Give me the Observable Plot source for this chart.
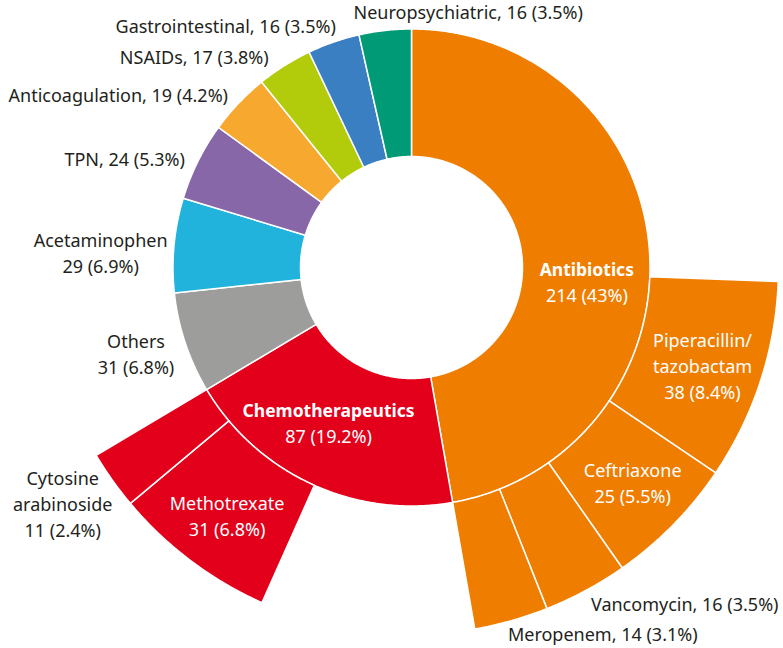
<!DOCTYPE html>
<html><head><meta charset="utf-8">
<script src="https://cdn.jsdelivr.net/npm/d3@7"></script>
<script src="https://cdn.jsdelivr.net/npm/@observablehq/plot@0.6"></script>
<style>body{margin:0;background:#fff;}</style>
</head><body><div id="chart"></div>
<script>
// ---- data ----
const categories = ["Antibiotics","Chemotherapeutics","Others","Acetaminophen","TPN","Anticoagulation","NSAIDs","Gastrointestinal","Neuropsychiatric"];
const counts = [214, 87, 31, 29, 24, 19, 17, 16, 16];
const percents = ["43%","19.2%","6.8%","6.9%","5.3%","4.2%","3.8%","3.5%","3.5%"];
const subParents = ["Antibiotics","Antibiotics","Antibiotics","Antibiotics","Chemotherapeutics","Chemotherapeutics"];
const subNames = ["Piperacillin/tazobactam","Ceftriaxone","Vancomycin","Meropenem","Methotrexate","Cytosine arabinoside"];
const subCounts = [38, 25, 16, 14, 31, 11];
const subPercents = ["8.4%","5.5%","3.5%","3.1%","6.8%","2.4%"];

// ---- style / layout ----
const colors = ["#ef7d00","#e2001a","#9d9d9c","#22b3dd","#8767a8","#f6a82f","#b2cb0a","#3a7fc1","#009a77"];
const W = 783, H = 648, CX = 411, CY = 267;
const R_IN = 111, R_MID = 238.5, R_OUT = 367;
const SUB_TOTAL = 430; // angular total used by the outer ring
const FONT = "'Noto Sans', sans-serif", FS = 18, FS_BOLD = 17.5, LINE = 26;
const labelLayout = {
  "Antibiotics": {r:176, dx:0, dy:31, anchor:"middle", inside:true, bold:true},
  "Chemotherapeutics": {r:175, dx:-10, dy:-2, anchor:"middle", inside:true, bold:true},
  "Others": {r:253, dx:-35.5, dy:8, anchor:"middle"},
  "Acetaminophen": {r:253, dx:-59, dy:10, anchor:"middle"},
  "TPN": {r:253, dx:0, dy:5, anchor:"end", comma:true},
  "Anticoagulation": {r:253, dx:0, dy:3, anchor:"end", comma:true},
  "NSAIDs": {r:253, dx:-8, dy:5, anchor:"end", comma:true},
  "Gastrointestinal": {r:253, dx:7, dy:-1, anchor:"end", comma:true},
  "Neuropsychiatric": {r:253, dx:-30, dy:-3, anchor:"start", comma:true},
  "Piperacillin/tazobactam": {r:303, dx:3, dy:5.5, anchor:"middle", inside:true, lines:["Piperacillin/","tazobactam"]},
  "Ceftriaxone": {r:303, dx:5, dy:4.6, anchor:"middle", inside:true},
  "Vancomycin": {r:380, dx:-1, dy:3, anchor:"start", comma:true},
  "Meropenem": {r:380, dx:-7, dy:2, anchor:"start", comma:true},
  "Methotrexate": {r:303, dx:-2, dy:8, anchor:"middle", inside:true},
  "Cytosine arabinoside": {r:380, dx:-39, dy:18, anchor:"middle", lines:["Cytosine","arabinoside"]}
};

// ---- geometry ----
const deg = Math.PI / 180;
const polar = (a, r) => [r * Math.sin(a * deg), -r * Math.cos(a * deg)];
const mainAngle = d3.scaleLinear().domain([0, d3.sum(counts)]).range([0, 360]);
const subAngle = d3.scaleLinear().domain([0, SUB_TOTAL]).range([0, 360]);

const slices = [];
const cum = [0, ...d3.cumsum(counts)];
categories.forEach((c, i) => slices.push({name:c, key:c, count:counts[i], pct:percents[i], a0:mainAngle(cum[i]), a1:mainAngle(cum[i+1]), r0:R_IN, r1:R_MID}));
const parentEnd = new Map(slices.map(s => [s.name, s.a1]));
for (const p of new Set(subParents)) {
  const idx = subParents.map((q, i) => q === p ? i : -1).filter(i => i >= 0);
  const tot = d3.sum(idx, i => subCounts[i]);
  let a = parentEnd.get(p) - subAngle(tot);
  for (const i of idx) {
    const a1 = a + subAngle(subCounts[i]);
    slices.push({name:subNames[i], key:p, count:subCounts[i], pct:subPercents[i], a0:a, a1, r0:R_MID, r1:R_OUT});
    a = a1;
  }
}

const pts = [];
slices.forEach((s, id) => {
  const n = Math.max(2, Math.ceil((s.a1 - s.a0) / 0.5));
  for (let i = 0; i <= n; i++) { const [x, y] = polar(s.a0 + (s.a1 - s.a0) * i / n, s.r1); pts.push({id, key:s.key, x, y}); }
  for (let i = n; i >= 0; i--) { const [x, y] = polar(s.a0 + (s.a1 - s.a0) * i / n, s.r0); pts.push({id, key:s.key, x, y}); }
});

const textLines = [];
for (const s of slices) {
  const L = labelLayout[s.name];
  const [bx, by] = polar((s.a0 + s.a1) / 2, L.r);
  const nums = `${s.count} (${s.pct})`;
  let lines;
  if (L.comma) lines = [{t:`${s.name}, ${nums}`, b:false}];
  else lines = [...(L.lines || [s.name]).map(t => ({t, b:!!L.bold})), {t:nums, b:false}];
  lines.forEach((ln, i) => textLines.push({
    x: bx + L.dx, y: by + L.dy + (i - (lines.length - 1) / 2) * LINE,
    text: ln.t, bold: ln.b, anchor: L.anchor, color: L.inside ? "white" : "#231f20"
  }));
}

const chart = Plot.plot({
  width: W, height: H, margin: 0,
  x: {domain: [-CX, W - CX], range: [0, W], axis: null},
  y: {domain: [-CY, H - CY], range: [0, H], axis: null},
  color: {domain: categories, range: colors},
  style: {fontFamily: FONT, background: "white"},
  marks: [
    Plot.line(pts, {x:"x", y:"y", z:"id", fill:"key", stroke:"white", strokeWidth:1.5, curve:"linear-closed"}),
    ...["start","middle","end"].flatMap(anchor => [false, true].map(bold =>
      Plot.text(textLines.filter(d => d.anchor === anchor && d.bold === bold), {
        x:"x", y:"y", text:"text", fill:d => d.color, textAnchor:anchor,
        fontSize: bold ? FS_BOLD : FS, fontWeight: bold ? "bold" : "normal"
      })))
  ]
});
document.getElementById("chart").append(chart);
</script>
</body></html>
